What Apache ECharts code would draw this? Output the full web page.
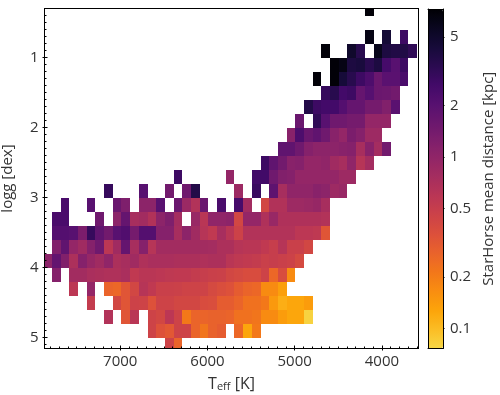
<!DOCTYPE html>
<html><head><meta charset="utf-8">
<style>html,body{margin:0;padding:0;background:#fff}#c{width:500px;height:395px}</style>
<script src="https://cdn.jsdelivr.net/npm/echarts@6/dist/echarts.min.js"></script>
</head><body><div id="c"></div>
<script>
// Teff bin layout (hot to cool), logg bin height
const teffFirstEdge = 7883, teffBinWidth = 99.66, loggBinHeight = 0.2;
const teffTicks = [7000, 6000, 5000, 4000];
const loggTicks = [1, 2, 3, 4, 5];
const distanceTicks = [5, 2, 1, 0.5, 0.2, 0.1];
const n = null;
// each row: [logg lower edge, first Teff bin index, mean distances in kpc ...]
const row021 = [0.21, 37, 7];
const row061 = [0.61, 37, 6.3,n,4.5,n,2.8];
const row081 = [0.81, 32, 7,n,n,5,3.5,n,5.9,4,3.8,3.8,3.2];
const row101 = [1.01, 33, 7,6.3,4,4.2,3.4,4,2.5,2,2.8];
const row121 = [1.21, 31, 7,n,7,4.4,3.5,2.8,2.3,1.6,1.95,1.95,2.4];
const row141 = [1.41, 32, 3,3.5,2.6,2.8,1.7,2.05,1.6,1.55,1.45];
const row161 = [1.61, 30, 3.7,2.8,2.6,2.6,2.1,1.7,1.7,1.4,1.4,1.2,1.95];
const row181 = [1.81, 29, 1.6,n,3.2,2,1.5,1.5,1.4,1.4,.95,.95,.95];
const row201 = [2.01, 28, 1.1,2.3,1.6,1.8,1.5,1.1,.95,1.3,1.15,.85,.85];
const row221 = [2.21, 27, 1.8,1.8,1.5,1.15,1.05,1.05,1.05,1.1,1.15,.75,1.1,.78,1.45];
const row241 = [2.41, 25, 2.8,1.8,1.45,1.1,1.15,.95,.95,1,.82,.75,1,.62,.78];
const row261 = [2.61, 15, 2.8,n,n,n,n,n,.95,n,n,2.65,2.65,1.5,1.2,1.15,.95,.95,.95,.95,.95,.85,.85];
const row281 = [2.81, 7, 3,n,n,n,2,n,n,1.45,n,1.5,3.7,n,n,n,n,.85,n,2.9,n,1.85,.75,1,1,1,1.1,1.05,.85,.9];
const row301 = [3.01, 2, 2.4,n,n,2,n,n,1.6,1.25,n,1.05,1.05,2,n,1.6,.88,.65,1.6,n,2.4,n,2.5,.8,n,.42,.66,.66,.85,.85,.88,.92,.75];
const row321 = [3.21, 1, 2.4,2.4,n,n,n,1.5,n,1.05,1.7,.75,.8,.66,1.05,1.25,.78,n,.9,.6,1,1,1.05,.42,.95,.95,.68,.9,.68,.68,.68,.68,.68,.65];
const row341 = [3.41, 1, 2.1,2.1,2,1.3,3,1.8,1.45,2,2.2,1.4,2.1,2.1,1.15,1.15,.75,1.05,.82,.62,.55,.75,.6,.46,.65,.65,.65,.65,.65,.65,.58,.58,.56,.33];
const row361 = [3.61, 1, 1.2,1.8,.95,.82,1.15,1.5,.58,.82,1.7,.75,1.15,.62,.8,.8,.8,.8,.8,.8,.78,.7,.7,.62,.6,.6,.55,.5,.62,.48,.48,.42];
const row381 = [3.81, 0, 1.05,1.75,1.2,.7,1.15,.92,.82,1,.7,.75,.82,.68,.72,.72,.72,.7,.7,.7,.68,.7,.7,.6,.56,.54,.52,.48,.5,.48,.46,.4];
const row401 = [4.01, 1, 1.15,n,.8,.8,.72,.7,.68,.68,.72,.55,.6,.6,.58,.56,.55,.55,.52,.5,.48,.47,.42,.4,.38,.38,.45,.26,.38,.17];
const row421 = [4.21, 3, .58,n,.95,n,.27,.26,.33,.42,.62,.55,.48,.48,.47,.45,.45,.45,.4,.37,.35,.3,.27,.26,.17,.17,.135];
const row441 = [4.41, 5, .52,n,n,.42,.33,.46,.45,.35,.45,.45,.42,.42,.42,.38,.37,.3,.3,.27,.23,.23,.21,.145,.115,.125,.125,.14];
const row461 = [4.61, 7, .65,n,.33,.6,n,.45,.42,.58,.45,.21,.27,.27,.28,.28,.27,.23,.23,.22,.17,.17,.14,.125,.125,.08];
const row481 = [4.81, 12, .45,.35,.32,.45,.45,.27,.22,.28,.3,n,.26,.125,.21];
const row501 = [5.01, 14, .45,.27];
const rows = [row021,row061,row081,row101,row121,row141,row161,row181,row201,row221,row241,row261,row281,row301,row321,row341,row361,row381,row401,row421,row441,row461,row481,row501];

// inferno, truncated at the yellow end: low distance first
const colorStops = ['#f6d746','#fbbd25','#fca50a','#f98e10','#f37819','#ea642a','#dd513a','#cd4347','#bc3754','#a72e5e','#932667','#7f1f6c','#6a176e','#561070','#420a68','#2a0b50','#160b39','#0a0720','#000004'];

const teffMin = 3580, teffMax = 7869, loggMin = 0.30, loggMax = 5.157;
const logDistMin = -1.116, logDistMax = 0.862;

const cells = [];
rows.forEach(r => {
  const g = r[0], start = r[1];
  r.slice(2).forEach((d, i) => {
    if (d === null) return;
    const hi = teffFirstEdge - teffBinWidth * (start + i);
    cells.push([hi, hi - teffBinWidth, g, g + loggBinHeight, Math.log10(d)]);
  });
});

const minorTeff = [], minorLogg = [];
for (let t = 3600; t <= 7800; t += 100) if (t % 1000) minorTeff.push(t);
for (let i = 4; i <= 51; i++) if (i % 10) minorLogg.push(i / 10);

const font = '"Open Sans"';
const ink = '#333';
const fs = 15;
const line = { show: true, onZero: false, lineStyle: { color: '#000', width: 1 } };
const xBase = { gridIndex: 0, type: 'value', inverse: true, min: teffMin, max: teffMax, z: 6, splitLine: { show: false }, axisLine: line };
const yBase = { gridIndex: 0, type: 'value', inverse: true, min: loggMin, max: loggMax, z: 6, splitLine: { show: false }, axisLine: line };
const tick = (vals, len, inside) => ({ show: true, inside, length: len, customValues: vals, lineStyle: { color: '#000', width: 1 } });

const option = {
  animation: false,
  backgroundColor: '#fff',
  textStyle: { fontFamily: font },
  grid: [
    { left: 44.5, top: 8.5, width: 374, height: 340, show: false, outerBoundsMode: 'none' },
    { left: 428, top: 9, width: 15, height: 339.5, show: false, outerBoundsMode: 'none' }
  ],
  visualMap: {
    type: 'continuous', seriesIndex: 0, dimension: 4, min: logDistMin, max: logDistMax,
    left: 428, top: 9, itemWidth: 15, itemHeight: 339.5, padding: 0,
    calculable: false, realtime: false, hoverLink: false, text: ['', ''], showLabel: false,
    inRange: { color: colorStops }
  },
  xAxis: [
    Object.assign({}, xBase, {
      position: 'bottom', axisTick: tick(teffTicks, 2, false),
      axisLabel: { show: true, customValues: teffTicks, margin: 6, fontSize: fs, color: ink, fontFamily: font, formatter: v => String(v) },
      name: '{t|T}{s|eff}{t| [K]}', nameLocation: 'middle', nameGap: 28,
      nameTextStyle: { rich: { t: { fontSize: 16, color: ink, fontFamily: font }, s: { fontSize: 11, color: ink, fontFamily: font, verticalAlign: 'bottom', lineHeight: 10, padding: [5, 0, 0, 0] } } }
    }),
    Object.assign({}, xBase, { position: 'bottom', axisTick: tick(teffTicks, 3, true), axisLabel: { show: false } }),
    Object.assign({}, xBase, { position: 'bottom', axisTick: tick(minorTeff, 2, true), axisLabel: { show: false } }),
    Object.assign({}, xBase, { position: 'top', axisTick: { show: false }, axisLabel: { show: false } }),
    { gridIndex: 1, type: 'value', min: 0, max: 1, z: 6, position: 'bottom', axisLine: line, axisTick: { show: false }, axisLabel: { show: false }, splitLine: { show: false } },
    { gridIndex: 1, type: 'value', min: 0, max: 1, z: 6, position: 'top', axisLine: line, axisTick: { show: false }, axisLabel: { show: false }, splitLine: { show: false } }
  ],
  yAxis: [
    Object.assign({}, yBase, {
      position: 'left', axisTick: tick(loggTicks, 2, false),
      axisLabel: { show: true, customValues: loggTicks, margin: 6, fontSize: fs, color: ink, fontFamily: font },
      name: 'logg [dex]', nameLocation: 'middle', nameGap: 29, nameRotate: 90,
      nameTextStyle: { fontSize: 15, color: ink, fontFamily: font }
    }),
    Object.assign({}, yBase, { position: 'left', axisTick: tick(loggTicks, 3, true), axisLabel: { show: false } }),
    Object.assign({}, yBase, { position: 'left', axisTick: tick(minorLogg, 2, true), axisLabel: { show: false } }),
    Object.assign({}, yBase, { position: 'right', axisTick: { show: false }, axisLabel: { show: false } }),
    { gridIndex: 1, type: 'value', min: logDistMin, max: logDistMax, z: 6, position: 'left', axisLine: line, axisTick: { show: false }, axisLabel: { show: false }, splitLine: { show: false } },
    { gridIndex: 1, type: 'value', min: logDistMin, max: logDistMax, z: 6, position: 'right', axisLine: line, splitLine: { show: false },
      axisTick: tick(distanceTicks.map(Math.log10), 1.5, false),
      axisLabel: { show: true, customValues: distanceTicks.map(Math.log10), margin: 7, fontSize: fs, color: ink, fontFamily: font,
        formatter: v => String(distanceTicks.reduce((a, b) => Math.abs(Math.log10(b) - v) < Math.abs(Math.log10(a) - v) ? b : a)) },
      name: 'StarHorse mean distance [kpc]', nameLocation: 'middle', nameGap: 38, nameRotate: 90,
      nameTextStyle: { fontSize: 15, color: ink, fontFamily: font }
    }
  ],
  series: [{
    type: 'custom', coordinateSystem: 'cartesian2d', xAxisIndex: 0, yAxisIndex: 0, clip: true, z: 2,
    encode: { x: [0, 1], y: [2, 3] }, dimensions: ['hi', 'lo', 'g0', 'g1', 'logd'],
    data: cells, silent: true,
    renderItem: (params, api) => {
      const a = api.coord([api.value(0), api.value(2)]);
      const b = api.coord([api.value(1), api.value(3)]);
      const x = Math.round(a[0]), y = Math.round(a[1]);
      return { type: 'rect', shape: { x, y, width: Math.round(b[0]) - x, height: Math.round(b[1]) - y }, style: { fill: api.visual('color') } };
    }
  }]
};
const chart = echarts.init(document.getElementById('c'), null, { renderer: 'canvas' });
chart.setOption(option);
</script></body></html>
